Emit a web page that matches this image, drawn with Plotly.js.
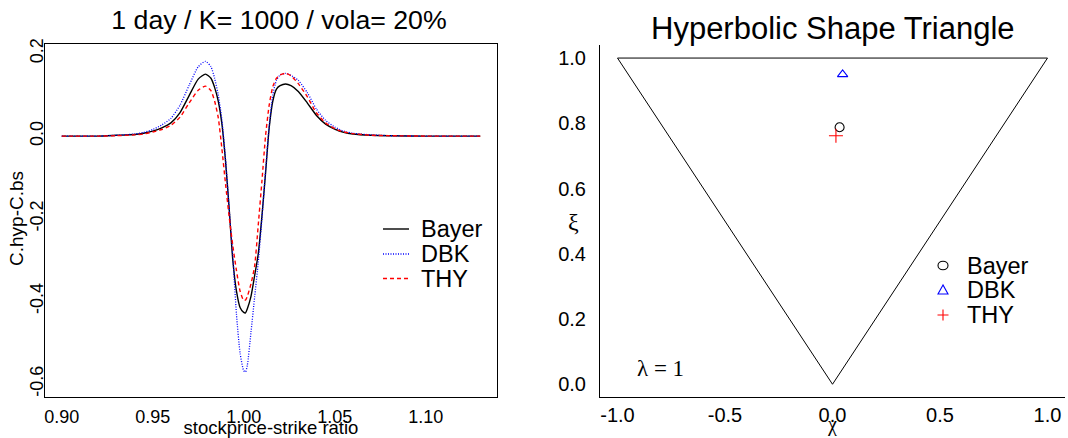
<!DOCTYPE html>
<html>
<head>
<meta charset="utf-8">
<script src="https://cdn.plot.ly/plotly-3.0.1.min.js"></script>
<style>html,body{margin:0;padding:0;background:#fff;}#chart{width:1068px;height:438px;}</style>
</head>
<body>
<div id="chart"></div>
<script>
// ---- left panel data: C.hyp - C.bs against stockprice/strike ratio ----
const ratio = [0.90, 0.92, 0.93, 0.94, 0.945, 0.95, 0.955, 0.96, 0.965, 0.97, 0.975, 0.979, 0.982, 0.984, 0.986, 0.988, 0.990, 0.992, 0.994, 0.996, 0.998, 1.000, 1.001, 1.002, 1.004, 1.006, 1.008, 1.010, 1.012, 1.014, 1.016, 1.018, 1.020, 1.023, 1.026, 1.030, 1.035, 1.040, 1.045, 1.050, 1.055, 1.060, 1.070, 1.080, 1.100, 1.130];
const bayerDiff = [0, 0, 0.002, 0.004, 0.007, 0.012, 0.020, 0.032, 0.057, 0.098, 0.138, 0.150, 0.140, 0.118, 0.085, 0.030, -0.060, -0.175, -0.300, -0.375, -0.415, -0.427, -0.428, -0.418, -0.388, -0.338, -0.285, -0.195, -0.090, 0.020, 0.085, 0.114, 0.122, 0.126, 0.122, 0.108, 0.080, 0.050, 0.029, 0.017, 0.009, 0.005, 0.002, 0.001, 0, 0];
const dbkDiff = [0, 0, 0.002, 0.005, 0.009, 0.016, 0.027, 0.043, 0.075, 0.123, 0.168, 0.181, 0.168, 0.140, 0.100, 0.040, -0.055, -0.175, -0.290, -0.430, -0.525, -0.568, -0.571, -0.555, -0.475, -0.390, -0.305, -0.200, -0.085, 0.025, 0.100, 0.135, 0.148, 0.152, 0.147, 0.135, 0.105, 0.065, 0.038, 0.022, 0.012, 0.007, 0.003, 0.001, 0, 0];
const thyDiff = [0, 0, 0.001, 0.003, 0.005, 0.010, 0.016, 0.026, 0.046, 0.080, 0.111, 0.121, 0.110, 0.085, 0.045, -0.030, -0.115, -0.195, -0.265, -0.325, -0.375, -0.398, -0.397, -0.388, -0.358, -0.315, -0.215, -0.110, 0.000, 0.075, 0.120, 0.140, 0.148, 0.152, 0.146, 0.127, 0.095, 0.056, 0.032, 0.018, 0.010, 0.006, 0.002, 0.001, 0, 0];
const ratioTicks = [0.90, 0.95, 1.00, 1.05, 1.10];
const ratioTickText = ['0.90', '0.95', '1.00', '1.05', '1.10'];
const diffTicks = [-0.6, -0.4, -0.2, 0.0, 0.2];
const diffTickText = ['-0.6', '-0.4', '-0.2', '0.0', '0.2'];

// ---- right panel data: hyperbolic shape triangle ----
const triangleChi = [-1, 1, 0, -1];
const triangleXi = [1, 1, 0, 1];
const stockNames = ['Bayer', 'DBK', 'THY'];
const stockChi = [0.033, 0.047, 0.016];
const stockXi = [0.788, 0.950, 0.762];
const chiTicks = [-1.0, -0.5, 0.0, 0.5, 1.0];
const chiTickText = ['-1.0', '-0.5', '0.0', '0.5', '1.0'];
const xiTicks = [0.0, 0.2, 0.4, 0.6, 0.8, 1.0];
const xiTickText = ['0.0', '0.2', '0.4', '0.6', '0.8', '1.0'];

const SANS = 'Liberation Sans, Arial, Helvetica, sans-serif';
const SERIF = 'Liberation Serif, Times New Roman, serif';
const W = 1068, H = 438;
const px = v => v / W;
const py = v => 1 - v / H;

const colors = ['#000000', '#0000ff', '#ff0000'];
const dashes = ['solid', '1px,1.5px', '4px,3px'];
const widths = [1.4, 1.3, 1.4];
const diffSeries = [bayerDiff, dbkDiff, thyDiff];
const symbols = ['circle-open', 'triangle-up-open', 'cross-thin-open'];
const symbolSizes = [9, 9, 10];

const traces = [];
stockNames.forEach((name, i) => {
  traces.push({
    type: 'scatter', mode: 'lines', name: name,
    x: ratio, y: diffSeries[i], xaxis: 'x', yaxis: 'y',
    line: {color: colors[i], width: widths[i], dash: dashes[i], shape: 'spline', smoothing: 0.6},
    showlegend: false, hoverinfo: 'skip'
  });
});
traces.push({
  type: 'scatter', mode: 'lines', x: triangleChi, y: triangleXi,
  xaxis: 'x2', yaxis: 'y2', line: {color: '#000000', width: 1},
  showlegend: false, hoverinfo: 'skip'
});
stockNames.forEach((name, i) => {
  traces.push({
    type: 'scatter', mode: 'markers', name: name,
    x: [stockChi[i]], y: [stockXi[i]], xaxis: 'x2', yaxis: 'y2',
    marker: {symbol: symbols[i], size: symbolSizes[i], color: colors[i], line: {color: colors[i], width: 1.1}},
    showlegend: false, hoverinfo: 'skip'
  });
});

// ---- legend keys and labels (drawn in page pixels) ----
const leftRows = [229, 254, 278.5];
const rightRows = [265.5, 290, 315];
const shapes = [];
const annotations = [];
stockNames.forEach((name, i) => {
  shapes.push({type: 'line', xref: 'paper', yref: 'paper',
    x0: px(383), x1: px(409), y0: py(leftRows[i]), y1: py(leftRows[i]),
    line: {color: colors[i], width: widths[i], dash: dashes[i]}});
  annotations.push({text: name, xref: 'paper', yref: 'paper', x: px(419), y: py(leftRows[i]),
    xanchor: 'left', yanchor: 'middle', showarrow: false,
    font: {family: SANS, size: 23.5, color: '#000000'}});
  annotations.push({text: name, xref: 'paper', yref: 'paper', x: px(965), y: py(rightRows[i]),
    xanchor: 'left', yanchor: 'middle', showarrow: false,
    font: {family: SANS, size: 23.5, color: '#000000'}});
});
const kx = 943, r0 = rightRows[0], r1 = rightRows[1], r2 = rightRows[2];
shapes.push({type: 'circle', xref: 'paper', yref: 'paper',
  x0: px(kx - 5), x1: px(kx + 5), y0: py(r0 - 4.3), y1: py(r0 + 4.3),
  line: {color: colors[0], width: 1.1}, fillcolor: 'rgba(0,0,0,0)'});
shapes.push({type: 'path', xref: 'paper', yref: 'paper',
  path: `M${px(kx)},${py(r1 - 5)} L${px(kx - 5)},${py(r1 + 4)} L${px(kx + 5)},${py(r1 + 4)} Z`,
  line: {color: colors[1], width: 1.1}, fillcolor: 'rgba(0,0,0,0)'});
shapes.push({type: 'path', xref: 'paper', yref: 'paper',
  path: `M${px(kx - 5.5)},${py(r2)} L${px(kx + 5.5)},${py(r2)} M${px(kx)},${py(r2 - 5.5)} L${px(kx)},${py(r2 + 5.5)}`,
  line: {color: colors[2], width: 1.1}});

annotations.push(
  {text: 'Hyperbolic Shape Triangle', xref: 'paper', yref: 'paper',
   x: px(833), y: py(28), xanchor: 'center', yanchor: 'middle', showarrow: false,
   font: {family: SANS, size: 31, color: '#000000'}},
  {text: 'C.hyp-C.bs', xref: 'paper', yref: 'paper', x: px(16), y: py(219),
   xanchor: 'center', yanchor: 'middle', textangle: -90, showarrow: false,
   font: {family: SANS, size: 19, color: '#000000'}},
  {text: 'ξ', xref: 'paper', yref: 'paper', x: px(573.5), y: py(222),
   xanchor: 'center', yanchor: 'middle', showarrow: false,
   font: {family: SERIF, size: 24, color: '#000000'}},
  {text: 'χ', xref: 'paper', yref: 'paper', x: px(832), y: py(424),
   xanchor: 'center', yanchor: 'middle', showarrow: false,
   font: {family: SERIF, size: 20, color: '#000000'}},
  {text: 'λ = 1', xref: 'x2', yref: 'y2', x: -0.80, y: 0.047,
   xanchor: 'center', yanchor: 'middle', showarrow: false,
   font: {family: SERIF, size: 23, color: '#000000'}}
);

const layout = {
  width: W, height: H,
  margin: {l: 0, r: 0, t: 0, b: 0},
  paper_bgcolor: '#ffffff', plot_bgcolor: '#ffffff',
  font: {family: SANS, color: '#000000'},
  showlegend: false,
  title: {
    text: '1 day / K= 1000 / vola= 20%',
    font: {family: SANS, size: 26.7, color: '#000000'},
    x: px(279), xref: 'paper', xanchor: 'center',
    y: py(20), yref: 'container', yanchor: 'middle'
  },
  xaxis: {
    domain: [px(45), px(497)], range: [0.8908, 1.1392], anchor: 'y',
    tickvals: ratioTicks, ticktext: ratioTickText, ticks: '',
    ticklabelstandoff: 4,
    tickfont: {family: SANS, size: 18, color: '#000000'},
    showline: true, mirror: true, linecolor: '#000000', linewidth: 1,
    showgrid: false, zeroline: false,
    title: {text: 'stockprice-strike ratio', font: {family: SANS, size: 18.5, color: '#000000'}, standoff: 1}
  },
  yaxis: {
    domain: [1 - 396.7 / H, 1 - 44 / H], range: [-0.631, 0.223], anchor: 'x',
    tickvals: diffTicks, ticktext: diffTickText, ticks: '', tickangle: -90,
    ticklabelstandoff: -6,
    tickfont: {family: SANS, size: 18, color: '#000000'},
    showline: true, mirror: true, linecolor: '#000000', linewidth: 1,
    showgrid: false, zeroline: false
  },
  xaxis2: {
    domain: [px(600), px(1064.7)], range: [-1.0814, 1.08], anchor: 'y2',
    tickvals: chiTicks, ticktext: chiTickText, ticks: '',
    ticklabelstandoff: 0,
    tickfont: {family: SANS, size: 20, color: '#000000'},
    showline: true, mirror: false, linecolor: '#000000', linewidth: 1,
    showgrid: false, zeroline: false
  },
  yaxis2: {
    domain: [1 - 397.3 / H, 1 - 45 / H], range: [-0.04, 1.04], anchor: 'x2',
    tickvals: xiTicks, ticktext: xiTickText, ticks: '',
    ticklabelstandoff: 9,
    tickfont: {family: SANS, size: 20, color: '#000000'},
    showline: true, mirror: false, linecolor: '#000000', linewidth: 1,
    showgrid: false, zeroline: false
  },
  shapes: shapes,
  annotations: annotations
};

Plotly.newPlot('chart', traces, layout, {displayModeBar: false, staticPlot: true});
</script>
</body>
</html>
